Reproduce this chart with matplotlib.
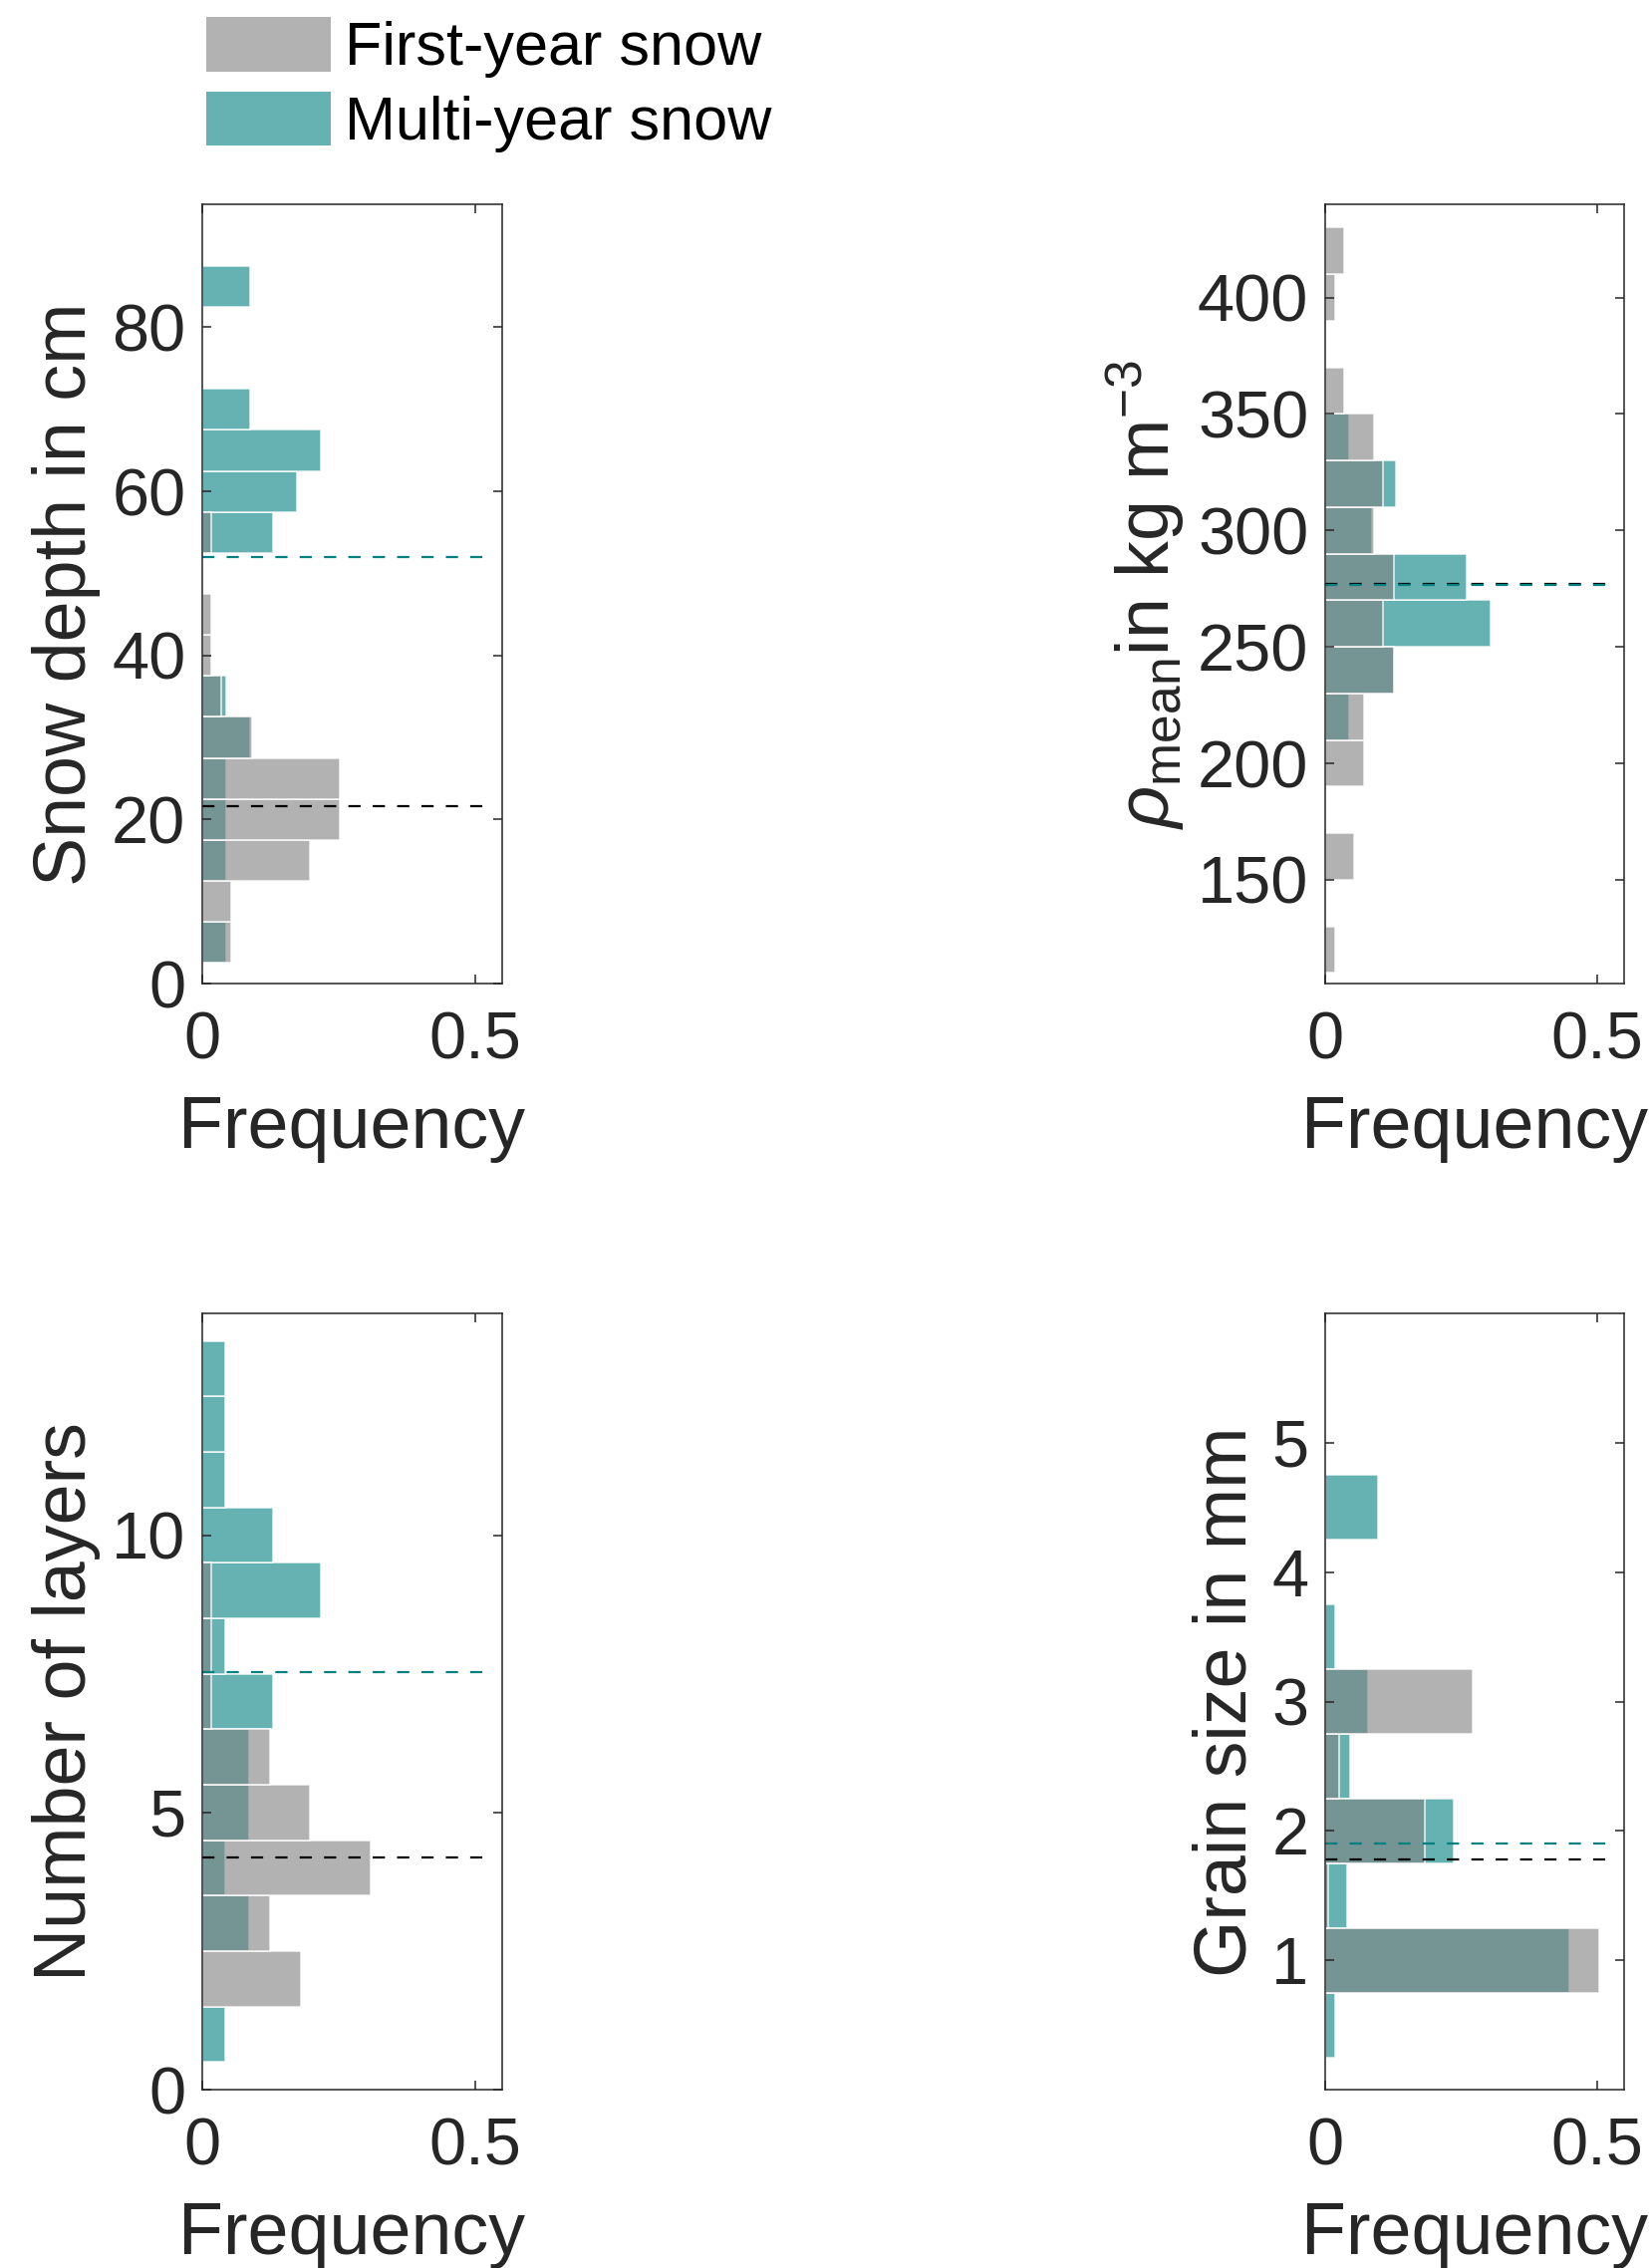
import matplotlib
matplotlib.use("Agg")
import matplotlib.pyplot as plt
from matplotlib.patches import Patch

# snow depth (cm), bins of 5
depth_bins = [5, 10, 15, 20, 25, 30, 35, 40, 45, 50, 55, 60, 65, 70, 75, 80, 85]
depth_fy = [0.053, 0.053, 0.198, 0.253, 0.253, 0.091, 0.035, 0.017, 0.017, 0, 0.017, 0, 0, 0, 0, 0, 0]
depth_my = [0.0435, 0, 0.0435, 0.0435, 0.0435, 0.087, 0.0435, 0, 0, 0, 0.130, 0.174, 0.217, 0.087, 0, 0, 0.087]

# mean density (kg m-3), bins of 20
dens_bins = [120, 140, 160, 180, 200, 220, 240, 260, 280, 300, 320, 340, 360, 380, 400, 420]
dens_fy = [0.018, 0, 0.053, 0, 0.071, 0.071, 0.126, 0.107, 0.126, 0.089, 0.107, 0.089, 0.035, 0, 0.018, 0.035]
dens_my = [0, 0, 0, 0, 0, 0.0435, 0.126, 0.304, 0.261, 0.087, 0.130, 0.0435, 0, 0, 0, 0]

# number of layers
layer_bins = [1, 2, 3, 4, 5, 6, 7, 8, 9, 10, 11, 12, 13]
layer_fy = [0, 0.180, 0.125, 0.308, 0.198, 0.125, 0.0165, 0.0165, 0.0165, 0, 0, 0, 0]
layer_my = [0.042, 0, 0.085, 0.042, 0.085, 0.085, 0.130, 0.042, 0.217, 0.130, 0.042, 0.042, 0.042]

# grain size (mm), bins of 0.5
grain_bins = [0.5, 1.0, 1.5, 2.0, 2.5, 3.0, 3.5, 4.0, 4.5]
grain_fy = [0, 0.505, 0.005, 0.183, 0.026, 0.271, 0, 0, 0]
grain_my = [0.019, 0.449, 0.040, 0.237, 0.045, 0.079, 0.019, 0, 0.098]

# means (dashed lines)
mean_fy = [21.6, 276.9, 4.18, 1.78]
mean_my = [52.0, 276.6, 7.53, 1.90]

plt.rcParams['font.family'] = ['Liberation Sans', 'DejaVu Sans']
plt.rcParams['mathtext.fontset'] = 'custom'
plt.rcParams['mathtext.rm'] = 'Liberation Sans'
plt.rcParams['mathtext.it'] = 'Liberation Sans:italic'

W, H = 1656, 2276
fig = plt.figure(figsize=(W / 100, H / 100), dpi=100)

dark = (0.15, 0.15, 0.15)
gray = (0.5, 0.5, 0.5, 0.6)
teal = (0, 0.5, 0.5, 0.6)
fs_tick = 48
fs_lab = 53

def px_axes(x0, y0, x1, y1):
    return fig.add_axes([x0 / W, 1 - y1 / H, (x1 - x0) / W, (y1 - y0) / H])

panels = [
    (px_axes(203, 205, 504, 987), depth_bins, depth_fy, depth_my, 5, (0, 95), [0, 20, 40, 60, 80], 'Snow depth in cm'),
    (px_axes(1330, 205, 1630, 987), dens_bins, dens_fy, dens_my, 20, (105.5, 440), [150, 200, 250, 300, 350, 400],
     r'$\rho_{\mathrm{mean}}$in kg m$^{-3}$'),
    (px_axes(203, 1318, 504, 2097), layer_bins, layer_fy, layer_my, 1, (0, 14), [0, 5, 10], 'Number of layers'),
    (px_axes(1330, 1318, 1630, 2097), grain_bins, grain_fy, grain_my, 0.5, (0, 6), [1, 2, 3, 4, 5], 'Grain size in mm'),
]

for i, (ax, bins, fy, my, bw, ylim, yt, ylab) in enumerate(panels):
    ax.barh(bins, my, height=bw, color=teal, edgecolor=(1, 1, 1, 0.8), linewidth=1.2)
    ax.barh(bins, fy, height=bw, color=gray, edgecolor=(1, 1, 1, 0.8), linewidth=1.2)
    ax.plot([0, 0.53], [mean_fy[i], mean_fy[i]], color='k', lw=1.6, dashes=(5.5, 5.5))
    ax.plot([0, 0.53], [mean_my[i], mean_my[i]], color=(0, 0.5, 0.5), lw=1.6, dashes=(5.5, 5.5))
    ax.set_xlim(0, 0.55)
    ax.set_ylim(*ylim)
    ax.set_xticks([0, 0.5])
    ax.set_xticklabels(['0', '0.5'])
    ax.set_yticks(yt)
    ax.tick_params(direction='in', length=6.5, width=1.1, colors=dark, labelsize=fs_tick,
                   top=True, right=True)
    ax.tick_params(axis='x', pad=20)
    ax.tick_params(axis='y', pad=12)
    for s in ax.spines.values():
        s.set_color(dark)
        s.set_linewidth(1.1)
    ax.set_xlabel('Frequency', fontsize=fs_lab, color=dark, labelpad=15)
    ax.set_ylabel(ylab, fontsize=fs_lab, color=dark, labelpad=8)

handles = [Patch(facecolor=gray, edgecolor='none'), Patch(facecolor=teal, edgecolor='none')]
fig.legend(handles, ['First-year snow', 'Multi-year snow'], loc='upper left',
           bbox_to_anchor=(207 / W, 1 - 17 / H), frameon=False, fontsize=44,
           borderpad=0, borderaxespad=0, handlelength=2.05, handleheight=1.0,
           handletextpad=0.23, labelspacing=0.22)

fig.savefig('out.png', dpi=100)
